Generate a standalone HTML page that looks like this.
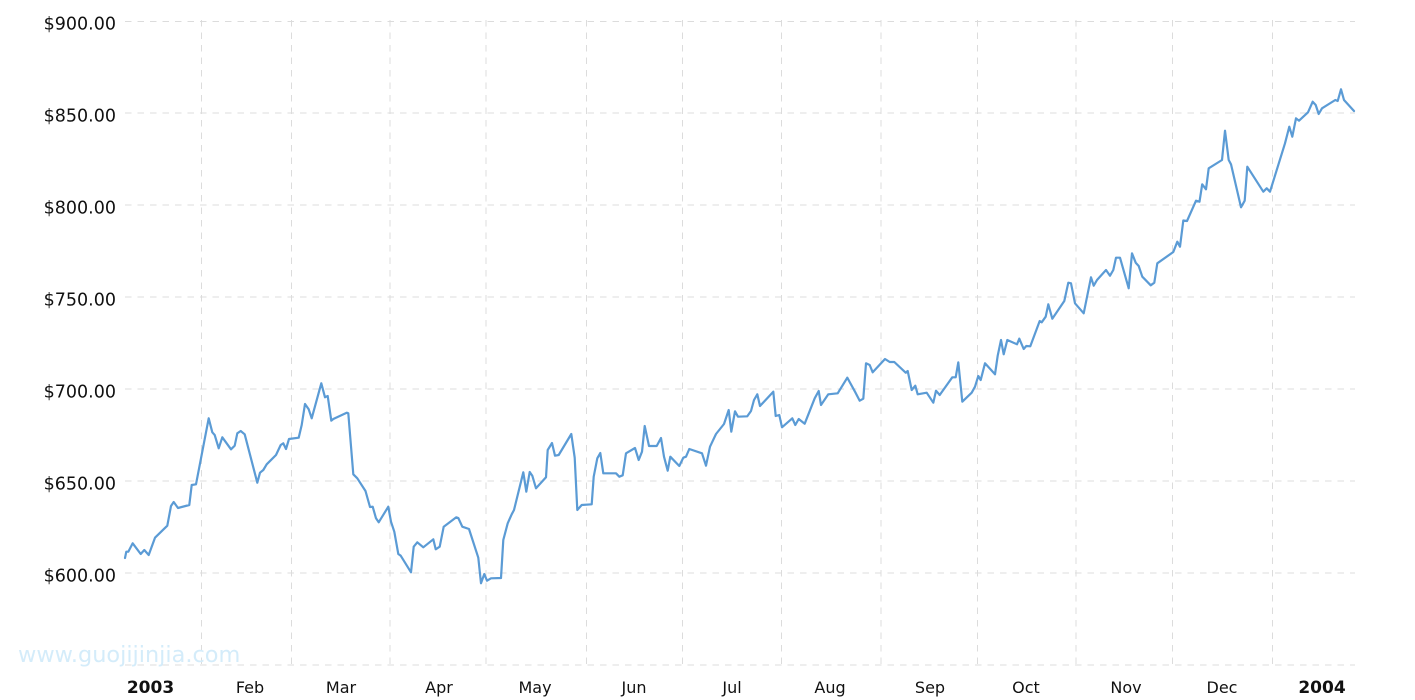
<!DOCTYPE html>
<html>
<head>
<meta charset="utf-8">
<style>
html,body{margin:0;padding:0;background:#fff;}
svg{display:block;}
text{font-family:"DejaVu Sans","Liberation Sans",sans-serif;fill:#111;}
</style>
</head>
<body>
<svg width="1415" height="700" viewBox="0 0 1415 700" xmlns="http://www.w3.org/2000/svg">
<rect width="1415" height="700" fill="#fff"/>
<g stroke="#dcdcdc" stroke-width="1" stroke-dasharray="6.5,6" fill="none">
<line x1="125" y1="21.5" x2="1355" y2="21.5"/>
<line x1="125" y1="113" x2="1355" y2="113"/>
<line x1="125" y1="205" x2="1355" y2="205"/>
<line x1="125" y1="297" x2="1355" y2="297"/>
<line x1="125" y1="389" x2="1355" y2="389"/>
<line x1="125" y1="481" x2="1355" y2="481"/>
<line x1="125" y1="573" x2="1355" y2="573"/>
<line x1="125" y1="665" x2="1355" y2="665"/>
<line x1="201.5" y1="20" x2="201.5" y2="665"/>
<line x1="291.5" y1="20" x2="291.5" y2="665"/>
<line x1="390" y1="20" x2="390" y2="665"/>
<line x1="486" y1="20" x2="486" y2="665"/>
<line x1="586.5" y1="20" x2="586.5" y2="665"/>
<line x1="682.5" y1="20" x2="682.5" y2="665"/>
<line x1="781.5" y1="20" x2="781.5" y2="665"/>
<line x1="881" y1="20" x2="881" y2="665"/>
<line x1="977.5" y1="20" x2="977.5" y2="665"/>
<line x1="1076" y1="20" x2="1076" y2="665"/>
<line x1="1172.5" y1="20" x2="1172.5" y2="665"/>
<line x1="1272.5" y1="20" x2="1272.5" y2="665"/>
</g>
<g font-size="17.5" text-anchor="end">
<text x="116" y="29.5">$900.00</text>
<text x="116" y="121.5">$850.00</text>
<text x="116" y="213.5">$800.00</text>
<text x="116" y="305.5">$750.00</text>
<text x="116" y="397.5">$700.00</text>
<text x="116" y="489.5">$650.00</text>
<text x="116" y="581.5">$600.00</text>
</g>
<text x="18" y="662" font-size="22.4" style="fill:#d4ecfa">www.guojijinjia.com</text>
<g font-size="16" text-anchor="middle">
<text x="150.5" y="693" font-weight="bold" font-size="17">2003</text>
<text x="250" y="693">Feb</text>
<text x="341" y="693">Mar</text>
<text x="439" y="693">Apr</text>
<text x="535" y="693">May</text>
<text x="634" y="693">Jun</text>
<text x="732" y="693">Jul</text>
<text x="830" y="693">Aug</text>
<text x="930" y="693">Sep</text>
<text x="1026" y="693">Oct</text>
<text x="1126" y="693">Nov</text>
<text x="1222" y="693">Dec</text>
<text x="1322" y="693" font-weight="bold" font-size="17">2004</text>
</g>
<polyline fill="none" stroke="#5b9bd5" stroke-width="2.2" stroke-linejoin="round" stroke-linecap="round" points="
125,558 126.3,551.7 128.3,551.7 132.7,543.3 140.7,554 144.3,550 148.7,555 151.7,546.7 155,537.7 167.3,525.7 171,506 173.7,502 178,508 189.3,505 191.7,485 196,484.3 208.7,418.3 212.3,432.3 214.7,435 218.7,448.3 222.3,437.3 231,449.3 234.7,445.7 237.3,433.3 240.7,431 244.7,434.3 257.3,482.7 260,472.7 263.3,470 266.7,464.3 276,455 280.7,445 283.3,443.3 286,449 289,439 298.7,437.7 301.7,425 305,404 308.7,409.3 311.7,418.3 321.3,383.3 325,397.3 327.7,396 331.3,420.7 333.3,419 346.7,412.7 348.3,413.3 353.3,474.3 357.3,478.3 365.5,491 370,507 372.7,506.7 376,518.3 378.7,522.3 388.3,506.7 391,521.7 394.3,531.7 398.3,554 400.7,555.7 411,572.3 413.7,546.7 417.3,542.3 423.3,547.3 433.3,539.3 435.7,549.3 439.7,546.7 443.7,526.7 456.3,517.3 458.3,518 462.3,526.7 469,529 478.3,557.7 481,583.3 484.3,574 487,580.7 491,578.3 501,578 503.3,540 507.7,523.3 511.7,514.3 514,510 523.3,472.3 526.3,491.7 529.7,472 532.3,475.7 536,488.3 546,477.3 547.7,450 552,443 555,455.7 558.7,455 571.3,434 574.7,457.7 577.3,510 581.7,505 591.7,504.3 593.7,476.7 597.3,458.3 600.3,453 603.3,473.3 616,473.3 619.3,476.7 622.7,475.3 626,453.3 635,448 638.7,460 642,451.7 644.7,426 649,446 656.7,446 661,438 664,456.7 667.7,470.7 670.3,456.7 679.3,466 683.3,457.7 686,456.7 689.3,449 702,453.3 706,465.7 710,446.7 716,434 724,424 728.7,410 731.3,431.7 735,411.3 738,416.7 747.3,416.3 751,411 754,400 757.3,394.3 760,406 773.3,391.7 775.7,416 779.3,415 782,427.3 792.3,418.3 795.3,425 798.7,419 804.7,423.7 814.7,398.3 818.7,391 821,405 828.3,394.3 837.7,393.3 847.3,377.7 855,391.7 859.7,400.7 863.3,398.7 866,363.3 869.7,365 872.7,372.3 885,359 889.7,362 894.3,362 905.7,372.7 907.7,371 911.7,390 915.3,385.7 917.7,394.3 926.7,392.7 933.3,402.7 936,390.7 939.7,395 952.3,377.3 955.7,377.3 958.3,362.3 962.3,401.7 971.7,392.7 975,386.7 978.3,376 980.7,380 985,363.3 995,374.3 997.7,355.7 1001,340 1003.7,354.3 1007.3,340 1017,344.3 1019.3,338.7 1023.7,349 1026.3,346 1030.3,346.3 1039.7,321 1041.7,322.3 1045.7,316.7 1048.3,304.3 1052.3,318.7 1064.3,301 1068.3,282.7 1071,283.3 1075,303.3 1083.7,313.3 1091,277.3 1093.7,285.7 1097,280 1106,270 1110,275.7 1113.3,270 1116,257.7 1120,257.7 1128.7,288.3 1132,253.3 1135.7,262.7 1138.7,266 1142.3,276.7 1150.7,285.3 1154.3,282.7 1157.3,263.3 1173.3,252 1177.3,241.7 1180,246.7 1183.3,220.5 1187,221 1196,200.7 1199.5,201.7 1202.2,184.3 1206,189.3 1208.7,168.3 1222,160 1225,130.7 1228.7,160 1231,164.3 1241,207.3 1244.7,200.7 1247.3,166.7 1263.3,191.7 1266.7,188.3 1270,191.7 1285,143.3 1289.3,126.7 1292.3,136.7 1296,118.3 1299,120.7 1308,112.3 1312.7,101.7 1315.7,105 1318.7,114 1322,108.3 1335.3,100 1337.7,101 1341,89.3 1344,100 1354,111"/>
</svg>
</body>
</html>
